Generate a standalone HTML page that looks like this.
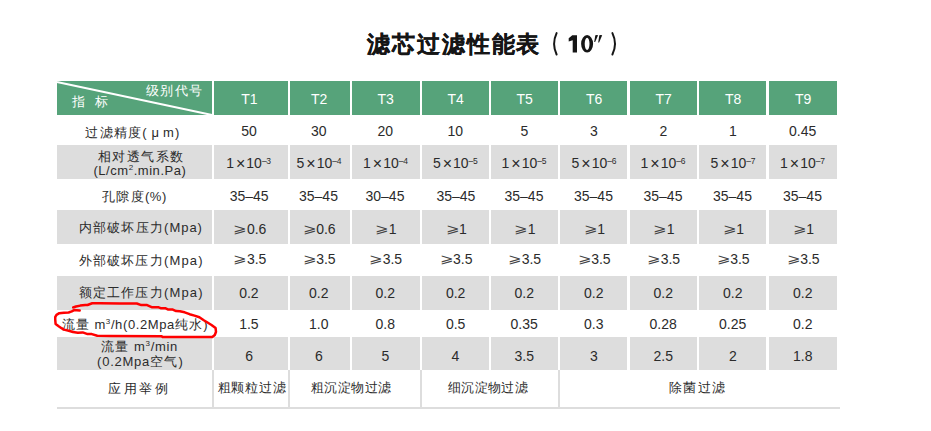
<!DOCTYPE html>
<html><head><meta charset="utf-8"><style>
html,body{margin:0;padding:0;background:#fff;}
body{width:931px;height:431px;position:relative;overflow:hidden;font-family:"Liberation Sans",sans-serif;color:#2b2b2b;}
.b{position:absolute;}
.g{background:#dddddd;}
.h{background:#56a37a;}
.t{position:absolute;white-space:nowrap;line-height:16px;font-size:14px;left:0;top:0;}
.wh{color:#fff;}
.wh .cj{-webkit-text-stroke:0;}
.tx{color:#2b2b2b;}
.lb{font-size:13px;}
.cj{letter-spacing:var(--ls);-webkit-text-stroke:0;}
.tt{font-size:23px;font-weight:bold;line-height:30px;color:#161616;-webkit-text-stroke:0.3px #161616;}
.tp{font-size:24px;line-height:30px;color:#161616;}
.tn{font-size:24px;font-weight:bold;line-height:30px;color:#161616;}
.sq{font-size:8px;vertical-align:5px;line-height:0;}
.sp{font-size:8.5px;vertical-align:4px;line-height:0;letter-spacing:-0.3px;}
.x{font-size:16px;margin:0 1px 0 2px;vertical-align:-1px;line-height:0;}
.mu{margin:0 3px 0 4px;}
.ge{font-size:12.5px;line-height:0;display:inline-block;transform:scaleX(1.25);margin:0 1.5px 0 1px;vertical-align:1px;color:#444;}
.line{position:absolute;background:#dddddd;}
</style></head><body>
<div class="b h" style="left:57px;top:81px;width:155px;height:34px;"></div>
<div class="b h" style="left:214px;top:81px;width:74px;height:34px;"></div>
<div class="b h" style="left:290px;top:81px;width:60px;height:34px;"></div>
<div class="b h" style="left:352px;top:81px;width:68px;height:34px;"></div>
<div class="b h" style="left:422px;top:81px;width:67px;height:34px;"></div>
<div class="b h" style="left:491px;top:81px;width:67px;height:34px;"></div>
<div class="b h" style="left:560px;top:81px;width:67px;height:34px;"></div>
<div class="b h" style="left:630px;top:81px;width:67px;height:34px;"></div>
<div class="b h" style="left:699px;top:81px;width:67px;height:34px;"></div>
<div class="b h" style="left:769px;top:81px;width:68px;height:34px;"></div>
<svg class="b" style="left:0;top:0" width="931" height="431"><line x1="57" y1="82" x2="212" y2="115" stroke="#fff" stroke-width="2"/></svg>
<div class="b g" style="left:57px;top:145px;width:155px;height:34px;"></div>
<div class="b g" style="left:214px;top:145px;width:74px;height:34px;"></div>
<div class="b g" style="left:290px;top:145px;width:60px;height:34px;"></div>
<div class="b g" style="left:352px;top:145px;width:68px;height:34px;"></div>
<div class="b g" style="left:422px;top:145px;width:67px;height:34px;"></div>
<div class="b g" style="left:491px;top:145px;width:67px;height:34px;"></div>
<div class="b g" style="left:560px;top:145px;width:67px;height:34px;"></div>
<div class="b g" style="left:630px;top:145px;width:67px;height:34px;"></div>
<div class="b g" style="left:699px;top:145px;width:67px;height:34px;"></div>
<div class="b g" style="left:769px;top:145px;width:68px;height:34px;"></div>
<div class="b g" style="left:57px;top:210px;width:155px;height:34px;"></div>
<div class="b g" style="left:214px;top:210px;width:74px;height:34px;"></div>
<div class="b g" style="left:290px;top:210px;width:60px;height:34px;"></div>
<div class="b g" style="left:352px;top:210px;width:68px;height:34px;"></div>
<div class="b g" style="left:422px;top:210px;width:67px;height:34px;"></div>
<div class="b g" style="left:491px;top:210px;width:67px;height:34px;"></div>
<div class="b g" style="left:560px;top:210px;width:67px;height:34px;"></div>
<div class="b g" style="left:630px;top:210px;width:67px;height:34px;"></div>
<div class="b g" style="left:699px;top:210px;width:67px;height:34px;"></div>
<div class="b g" style="left:769px;top:210px;width:68px;height:34px;"></div>
<div class="b g" style="left:57px;top:276px;width:155px;height:34px;"></div>
<div class="b g" style="left:214px;top:276px;width:74px;height:34px;"></div>
<div class="b g" style="left:290px;top:276px;width:60px;height:34px;"></div>
<div class="b g" style="left:352px;top:276px;width:68px;height:34px;"></div>
<div class="b g" style="left:422px;top:276px;width:67px;height:34px;"></div>
<div class="b g" style="left:491px;top:276px;width:67px;height:34px;"></div>
<div class="b g" style="left:560px;top:276px;width:67px;height:34px;"></div>
<div class="b g" style="left:630px;top:276px;width:67px;height:34px;"></div>
<div class="b g" style="left:699px;top:276px;width:67px;height:34px;"></div>
<div class="b g" style="left:769px;top:276px;width:68px;height:34px;"></div>
<div class="b g" style="left:57px;top:337px;width:155px;height:33px;"></div>
<div class="b g" style="left:214px;top:337px;width:74px;height:33px;"></div>
<div class="b g" style="left:290px;top:337px;width:60px;height:33px;"></div>
<div class="b g" style="left:352px;top:337px;width:68px;height:33px;"></div>
<div class="b g" style="left:422px;top:337px;width:67px;height:33px;"></div>
<div class="b g" style="left:491px;top:337px;width:67px;height:33px;"></div>
<div class="b g" style="left:560px;top:337px;width:67px;height:33px;"></div>
<div class="b g" style="left:630px;top:337px;width:67px;height:33px;"></div>
<div class="b g" style="left:699px;top:337px;width:67px;height:33px;"></div>
<div class="b g" style="left:769px;top:337px;width:68px;height:33px;"></div>
<div class="line" style="left:212px;top:370px;width:2px;height:37px;"></div>
<div class="line" style="left:288px;top:370px;width:2px;height:37px;"></div>
<div class="line" style="left:420px;top:370px;width:2px;height:37px;"></div>
<div class="line" style="left:558px;top:370px;width:2px;height:37px;"></div>
<div class="line" style="left:57px;top:407px;width:783px;height:2px;"></div>
<div id="title_cjk" class="t tt" style="left:367.29px;top:28.89px;letter-spacing:1.853px;">滤芯过滤性能表</div>
<div id="h_jb" class="t wh lb" style="left:146.00px;top:83.09px;--ls:1.333px;"><span class="cj">级别代号</span></div>
<div id="h_zb" class="t wh lb" style="left:71.79px;top:94.00px;--ls:2.240px;"><span class="cj">指</span><span style="display:inline-block;width:8px"></span><span class="cj">标</span></div>
<div id="hT1" class="t wh" style="left:241.20px;top:91.00px;">T1</div>
<div id="hT2" class="t wh" style="left:311.00px;top:91.00px;">T2</div>
<div id="hT3" class="t wh" style="left:377.50px;top:91.00px;">T3</div>
<div id="hT4" class="t wh" style="left:447.39px;top:91.00px;">T4</div>
<div id="hT5" class="t wh" style="left:516.50px;top:91.00px;">T5</div>
<div id="hT6" class="t wh" style="left:586.00px;top:91.00px;">T6</div>
<div id="hT7" class="t wh" style="left:655.50px;top:91.00px;">T7</div>
<div id="hT8" class="t wh" style="left:725.00px;top:91.00px;">T8</div>
<div id="hT9" class="t wh" style="left:795.00px;top:91.00px;">T9</div>
<div id="l1" class="t lb" style="left:85.39px;top:124.50px;letter-spacing:1.040px;--ls:1.200px;"><span class="cj">过滤精度</span>(<span class="mu">&#956;</span>m)</div>
<div id="l2a" class="t lb" style="left:98.09px;top:149.39px;--ls:1.360px;"><span class="cj">相对透气系数</span></div>
<div id="l2b" class="t lb" style="left:93.39px;top:162.70px;letter-spacing:0.548px;">(L/cm<span class="sq">2</span>.min.Pa)</div>
<div id="l3" class="t lb" style="left:102.29px;top:189.00px;letter-spacing:0.640px;--ls:1.200px;"><span class="cj">孔隙度</span>(%)</div>
<div id="l4" class="t lb" style="left:78.89px;top:220.39px;letter-spacing:0.976px;--ls:1.200px;"><span class="cj">内部破坏压力</span>(Mpa)</div>
<div id="l5" class="t lb" style="left:78.70px;top:253.09px;letter-spacing:1.168px;--ls:1.200px;"><span class="cj">外部破坏压力</span>(Mpa)</div>
<div id="l6" class="t lb" style="left:78.70px;top:284.89px;letter-spacing:1.168px;--ls:1.200px;"><span class="cj">额定工作压力</span>(Mpa)</div>
<div id="l7" class="t lb" style="left:61.79px;top:317.00px;letter-spacing:0.603px;--ls:1.200px;"><span class="cj">流量</span> m<span class="sq">3</span>/h(0.2Mpa<span class="cj">纯水</span>)</div>
<div id="l8a" class="t lb" style="left:101.29px;top:339.20px;letter-spacing:0.697px;--ls:1.200px;"><span class="cj">流量</span> m<span class="sq">3</span>/min</div>
<div id="l8b" class="t lb" style="left:97.09px;top:353.70px;letter-spacing:0.750px;--ls:1.200px;">(0.2Mpa<span class="cj">空气</span>)</div>
<div id="l9" class="t lb" style="left:108.39px;top:381.39px;--ls:2.480px;"><span class="cj">应用举例</span></div>
<div id="u1" class="t lb" style="left:217.70px;top:379.50px;--ls:0.780px;"><span class="cj">粗颗粒过滤</span></div>
<div id="u2" class="t lb" style="left:310.50px;top:379.50px;--ls:0.592px;"><span class="cj">粗沉淀物过滤</span></div>
<div id="u3" class="t lb" style="left:447.79px;top:379.50px;--ls:0.400px;"><span class="cj">细沉淀物过滤</span></div>
<div id="u4" class="t lb" style="left:669.39px;top:379.50px;--ls:1.067px;"><span class="cj">除菌过滤</span></div>
<div id="d1_1" class="t tx" style="left:241.20px;top:123.20px;">50</div>
<div id="d1_2" class="t tx" style="left:311.00px;top:123.20px;">30</div>
<div id="d1_3" class="t tx" style="left:377.50px;top:123.20px;">20</div>
<div id="d1_4" class="t tx" style="left:447.39px;top:123.20px;">10</div>
<div id="d1_5" class="t tx" style="left:520.50px;top:123.20px;">5</div>
<div id="d1_6" class="t tx" style="left:590.00px;top:123.20px;">3</div>
<div id="d1_7" class="t tx" style="left:659.50px;top:123.20px;">2</div>
<div id="d1_8" class="t tx" style="left:729.00px;top:123.20px;">1</div>
<div id="d1_9" class="t tx" style="left:789.00px;top:123.20px;">0.45</div>
<div id="d2_1" class="t tx" style="left:226.20px;top:154.59px;">1<span class="x">&#215;</span>10<span class="sp">&#8211;3</span></div>
<div id="d2_2" class="t tx" style="left:296.50px;top:154.59px;">5<span class="x">&#215;</span>10<span class="sp">&#8211;4</span></div>
<div id="d2_3" class="t tx" style="left:363.00px;top:154.59px;">1<span class="x">&#215;</span>10<span class="sp">&#8211;4</span></div>
<div id="d2_4" class="t tx" style="left:432.89px;top:154.59px;">5<span class="x">&#215;</span>10<span class="sp">&#8211;5</span></div>
<div id="d2_5" class="t tx" style="left:501.50px;top:154.59px;">1<span class="x">&#215;</span>10<span class="sp">&#8211;5</span></div>
<div id="d2_6" class="t tx" style="left:571.50px;top:154.59px;">5<span class="x">&#215;</span>10<span class="sp">&#8211;6</span></div>
<div id="d2_7" class="t tx" style="left:640.50px;top:154.59px;">1<span class="x">&#215;</span>10<span class="sp">&#8211;6</span></div>
<div id="d2_8" class="t tx" style="left:710.50px;top:154.59px;">5<span class="x">&#215;</span>10<span class="sp">&#8211;7</span></div>
<div id="d2_9" class="t tx" style="left:780.00px;top:154.59px;">1<span class="x">&#215;</span>10<span class="sp">&#8211;7</span></div>
<div id="d3_1" class="t tx" style="left:229.70px;top:187.50px;">35&#8211;45</div>
<div id="d3_2" class="t tx" style="left:299.00px;top:187.50px;">35&#8211;45</div>
<div id="d3_3" class="t tx" style="left:365.50px;top:187.50px;">30&#8211;45</div>
<div id="d3_4" class="t tx" style="left:436.39px;top:187.50px;">35&#8211;45</div>
<div id="d3_5" class="t tx" style="left:504.50px;top:187.50px;">35&#8211;45</div>
<div id="d3_6" class="t tx" style="left:574.00px;top:187.50px;">35&#8211;45</div>
<div id="d3_7" class="t tx" style="left:643.50px;top:187.50px;">35&#8211;45</div>
<div id="d3_8" class="t tx" style="left:713.00px;top:187.50px;">35&#8211;45</div>
<div id="d3_9" class="t tx" style="left:783.00px;top:187.50px;">35&#8211;45</div>
<div id="d4_1" class="t tx" style="left:233.40px;top:220.70px;"><span class="ge">&#10878;</span>0.6</div>
<div id="d4_2" class="t tx" style="left:302.70px;top:220.70px;"><span class="ge">&#10878;</span>0.6</div>
<div id="d4_3" class="t tx" style="left:375.20px;top:220.70px;"><span class="ge">&#10878;</span>1</div>
<div id="d4_4" class="t tx" style="left:445.59px;top:220.70px;"><span class="ge">&#10878;</span>1</div>
<div id="d4_5" class="t tx" style="left:514.20px;top:220.70px;"><span class="ge">&#10878;</span>1</div>
<div id="d4_6" class="t tx" style="left:583.70px;top:220.70px;"><span class="ge">&#10878;</span>1</div>
<div id="d4_7" class="t tx" style="left:653.20px;top:220.70px;"><span class="ge">&#10878;</span>1</div>
<div id="d4_8" class="t tx" style="left:722.70px;top:220.70px;"><span class="ge">&#10878;</span>1</div>
<div id="d4_9" class="t tx" style="left:792.70px;top:220.70px;"><span class="ge">&#10878;</span>1</div>
<div id="d5_1" class="t tx" style="left:233.40px;top:251.29px;"><span class="ge">&#10878;</span>3.5</div>
<div id="d5_2" class="t tx" style="left:302.70px;top:251.29px;"><span class="ge">&#10878;</span>3.5</div>
<div id="d5_3" class="t tx" style="left:369.20px;top:251.29px;"><span class="ge">&#10878;</span>3.5</div>
<div id="d5_4" class="t tx" style="left:439.59px;top:251.29px;"><span class="ge">&#10878;</span>3.5</div>
<div id="d5_5" class="t tx" style="left:508.20px;top:251.29px;"><span class="ge">&#10878;</span>3.5</div>
<div id="d5_6" class="t tx" style="left:577.70px;top:251.29px;"><span class="ge">&#10878;</span>3.5</div>
<div id="d5_7" class="t tx" style="left:647.20px;top:251.29px;"><span class="ge">&#10878;</span>3.5</div>
<div id="d5_8" class="t tx" style="left:716.70px;top:251.29px;"><span class="ge">&#10878;</span>3.5</div>
<div id="d5_9" class="t tx" style="left:786.70px;top:251.29px;"><span class="ge">&#10878;</span>3.5</div>
<div id="d6_1" class="t tx" style="left:239.20px;top:284.50px;">0.2</div>
<div id="d6_2" class="t tx" style="left:309.00px;top:284.50px;">0.2</div>
<div id="d6_3" class="t tx" style="left:375.50px;top:284.50px;">0.2</div>
<div id="d6_4" class="t tx" style="left:445.89px;top:284.50px;">0.2</div>
<div id="d6_5" class="t tx" style="left:514.50px;top:284.50px;">0.2</div>
<div id="d6_6" class="t tx" style="left:584.00px;top:284.50px;">0.2</div>
<div id="d6_7" class="t tx" style="left:653.50px;top:284.50px;">0.2</div>
<div id="d6_8" class="t tx" style="left:723.00px;top:284.50px;">0.2</div>
<div id="d6_9" class="t tx" style="left:793.00px;top:284.50px;">0.2</div>
<div id="d7_1" class="t tx" style="left:239.20px;top:316.09px;">1.5</div>
<div id="d7_2" class="t tx" style="left:309.00px;top:316.09px;">1.0</div>
<div id="d7_3" class="t tx" style="left:375.50px;top:316.09px;">0.8</div>
<div id="d7_4" class="t tx" style="left:445.89px;top:316.09px;">0.5</div>
<div id="d7_5" class="t tx" style="left:510.50px;top:316.09px;">0.35</div>
<div id="d7_6" class="t tx" style="left:584.00px;top:316.09px;">0.3</div>
<div id="d7_7" class="t tx" style="left:649.50px;top:316.09px;">0.28</div>
<div id="d7_8" class="t tx" style="left:719.00px;top:316.09px;">0.25</div>
<div id="d7_9" class="t tx" style="left:793.00px;top:316.09px;">0.2</div>
<div id="d8_1" class="t tx" style="left:245.20px;top:348.39px;">6</div>
<div id="d8_2" class="t tx" style="left:315.00px;top:348.39px;">6</div>
<div id="d8_3" class="t tx" style="left:381.50px;top:348.39px;">5</div>
<div id="d8_4" class="t tx" style="left:451.39px;top:348.39px;">4</div>
<div id="d8_5" class="t tx" style="left:514.50px;top:348.39px;">3.5</div>
<div id="d8_6" class="t tx" style="left:590.00px;top:348.39px;">3</div>
<div id="d8_7" class="t tx" style="left:653.50px;top:348.39px;">2.5</div>
<div id="d8_8" class="t tx" style="left:729.00px;top:348.39px;">2</div>
<div id="d8_9" class="t tx" style="left:793.00px;top:348.39px;">1.8</div>
<svg class="b" style="left:0;top:0" width="931" height="431"><path d="M556.6,33.1 Q551.6,43.8 556.6,54.5" fill="none" stroke="#161616" stroke-width="2" stroke-linecap="round"/><path d="M612.4,33.1 Q617.6,43.8 612.4,54.5" fill="none" stroke="#161616" stroke-width="2" stroke-linecap="round"/><path d="M572.3,35.3 H577 V52.4 H572.7 V40.2 L568.7,41.4 V38.3 Z" fill="#161616"/><path fill-rule="evenodd" d="M593.1,43.85 A6,8.75 0 1 1 581.1,43.85 A6,8.75 0 1 1 593.1,43.85 Z M589.5,43.85 A2.4,6.1 0 1 0 584.7,43.85 A2.4,6.1 0 1 0 589.5,43.85 Z" fill="#161616"/><path d="M595.3,35.2 Q596.6,34.7 598.1,35.2 L595.1,41.9 L594.2,41.9 Z" fill="#161616"/><path d="M599.3,35.2 Q600.7,34.7 602.2,35.2 L599.1,42.4 L598.2,42.4 Z" fill="#161616"/></svg>
<svg class="b" style="left:0;top:0" width="931" height="431"><path d="M73.2,307.4 L76,306.5 L80.2,305.6 L85.3,305.1 L87.5,305 L92.2,303.3 L100,303.3 L120,303.4 L136.8,303.5 L141.3,305.1 L147.1,305.1 L152.2,307.3 L158.7,307.3 L161.2,308.3 L165.7,308.3 L168.3,309.6 L172.8,309.6 L176.1,311.1 L179.9,311.2 L184.7,312.3 L189.6,314.2 L194.5,315.6 L199.4,317.3 L203.4,320 L207.5,322.5 L211.5,325 L215.6,328.1 L216,331.8 L214.8,335 L212.3,337 L175,336.9 L162.6,337 L161.9,336.3 L110,336.1 L97.3,335.8 L91.8,334.1 L87.6,334.1 L82.7,332.4 L77.8,332.7 L73,332 L68.8,330.7 L63.9,329.6 L61.5,328.2 L59,326.5 L55.6,324 L55.2,319.2 L55.3,316.9 L56.5,314.8 L59.3,313.2 L63.9,312.7 L68.6,312.5 L71.8,311.4 L74.1,310.1 L79.7,310.4" fill="none" stroke="#ff0000" stroke-width="2.5" stroke-linejoin="round" stroke-linecap="round"/></svg>
</body></html>
